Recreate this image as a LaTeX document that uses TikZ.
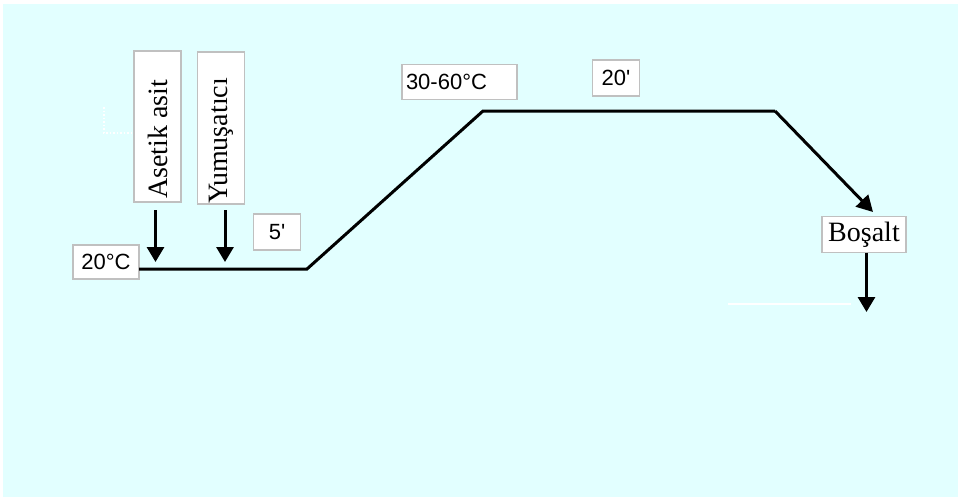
\documentclass[tikz,border=0pt]{standalone}
\usepackage{fontspec}
\setmainfont{Liberation Serif}
\newfontfamily\lsans{Liberation Sans}
\usetikzlibrary{arrows.meta}
\definecolor{bgcyan}{RGB}{226,255,255}
\definecolor{boxgray}{RGB}{192,192,192}
\tikzset{
  lbl/.style={draw=boxgray, line width=1.5pt, fill=white, inner sep=0pt},
  sanslbl/.style={lbl, font=\lsans\fontsize{22}{22}\selectfont},
  seriflbl/.style={lbl, font=\fontsize{28}{28}\selectfont},
  curve/.style={line width=3pt, line join=miter},
  drop/.style={line width=3pt, -{Triangle[length=15pt,width=17pt]}},
}
\begin{document}
\begin{tikzpicture}[x=1pt,y=-1pt]
\useasboundingbox (0,0) rectangle (961,501);
\fill[white] (0,0) rectangle (961,501);
\fill[bgcyan] (3,4) rectangle (958,497);
% faint white marks
\draw[white, line width=1.5pt, dotted] (104,107) -- (104,133) -- (134,133);
\draw[white, line width=1.5pt] (728,304) -- (851,304);
% labels
\node[seriflbl, minimum width=47pt, minimum height=151pt] (acid) at (157.5,126.5) {\rotatebox{90}{Asetik asit\hspace{26pt}}};
\node[seriflbl, minimum width=47pt, minimum height=151pt] (soft) at (221,128) {\rotatebox{90}{Yumuşatıcı\hspace{26pt}}};
\node[sanslbl, minimum width=47pt, minimum height=36pt] (t5) at (277,232) {5'};
\node[sanslbl, minimum width=66pt, minimum height=34pt] (t20c) at (106,262) {20°C};
\node[sanslbl, minimum width=115pt, minimum height=35pt, text width=107pt, align=left] (t3060) at (459.5,82) {30-60°C};
\node[sanslbl, minimum width=47pt, minimum height=36pt] (t20) at (616,78) {20'};
\node[seriflbl, minimum width=84pt, minimum height=36pt] (bos) at (864,234.5) {Boşalt};
% profile
\coordinate (p0) at (139,269);
\coordinate (p1) at (307,269);
\coordinate (p2) at (483,111);
\coordinate (p3) at (775,111);
\coordinate (p4) at (873,212);
\draw[curve] (p0) -- (p1) -- (p2) -- (p3);
\draw[curve, -{Triangle[length=16pt,width=17pt]}] (p3) -- (p4);
% drop arrows
\coordinate (a1) at (155.5,262);
\coordinate (a2) at (225,262);
\coordinate (a3) at (866.5,312);
\draw[drop] (155.5,210) -- (a1);
\draw[drop] (225,210) -- (a2);
\draw[drop] (866.5,252.5) -- (a3);
\end{tikzpicture}
\end{document}
